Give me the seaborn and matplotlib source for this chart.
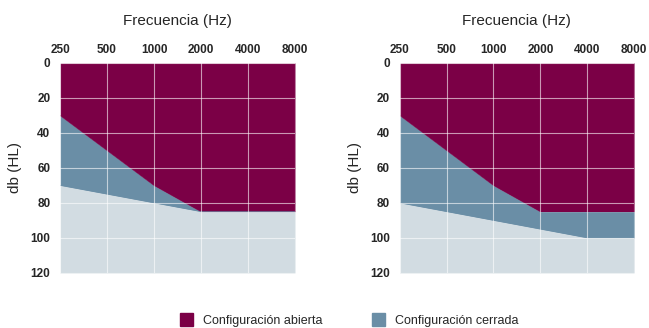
import numpy as np
import pandas as pd
import matplotlib
matplotlib.use("Agg")
import matplotlib.pyplot as plt
import seaborn as sns
from matplotlib.patches import Patch

# frequencies (Hz) and audiogram limits (dB HL)
freqs = ["250", "500", "1000", "2000", "4000", "8000"]
open_left = [30, 50, 70, 85, 85, 85]
closed_left = [70, 75, 80, 85, 85, 85]
open_right = [30, 50, 70, 85, 85, 85]
closed_right = [80, 85, 90, 95, 100, 100]
db_ticks = [0, 20, 40, 60, 80, 100, 120]

c_open = "#7b0046"
c_closed = "#6a8ea6"
c_rest = "#d2dce2"

sns.set_style("white")
plt.rcParams["font.family"] = ["Liberation Sans", "DejaVu Sans"]

fig = plt.figure(figsize=(6.49, 3.28), dpi=100)
ax1 = fig.add_axes([0.0925, 0.168, 0.362, 0.640])
ax2 = fig.add_axes([0.616, 0.168, 0.361, 0.640])


def draw_panel(ax, top, bottom):
    df = pd.DataFrame({"x": np.arange(len(freqs)), "top": top, "bottom": bottom})
    ax.fill_between(df["x"], 0, df["top"], color=c_open, lw=0, zorder=1)
    ax.fill_between(df["x"], df["top"], df["bottom"], color=c_closed, lw=0, zorder=1)
    ax.fill_between(df["x"], df["bottom"], 120, color=c_rest, lw=0, zorder=1)
    sns.lineplot(data=df, x="x", y="top", ax=ax, color=c_open, lw=0.5, zorder=2)
    sns.lineplot(data=df, x="x", y="bottom", ax=ax, color=c_closed, lw=0.5, zorder=2)

    ax.set_xlim(0, len(freqs) - 1)
    ax.set_ylim(120, 0)
    ax.xaxis.tick_top()
    ax.xaxis.set_label_position("top")
    ax.set_xticks(np.arange(len(freqs)))
    ax.set_xticklabels(freqs, fontsize=8.5, fontweight="bold")
    ax.set_yticks(db_ticks)
    ax.set_yticklabels(db_ticks, fontsize=8.5, fontweight="bold")
    ax.tick_params(axis="x", length=0, pad=5)
    ax.tick_params(axis="y", length=0, pad=7)
    ax.set_xlabel("Frecuencia (Hz)", fontsize=11, labelpad=14)
    ax.set_ylabel("db (HL)", fontsize=11, labelpad=6)
    ax.grid(True, color="white", lw=0.8, alpha=0.6, zorder=3)
    ax.set_axisbelow(False)
    for s in ax.spines.values():
        s.set_visible(False)


draw_panel(ax1, open_left, closed_left)
draw_panel(ax2, open_right, closed_right)

handles = [Patch(color=c_open, label="Configuración abierta"),
           Patch(color=c_closed, label="Configuración cerrada")]
fig.legend(handles=handles, loc="lower center", bbox_to_anchor=(0.538, -0.03),
           ncol=2, frameon=False, fontsize=9, handlelength=1.1, handleheight=1.3,
           handletextpad=0.8, columnspacing=3.9)

fig.savefig("out.png", dpi=100)
